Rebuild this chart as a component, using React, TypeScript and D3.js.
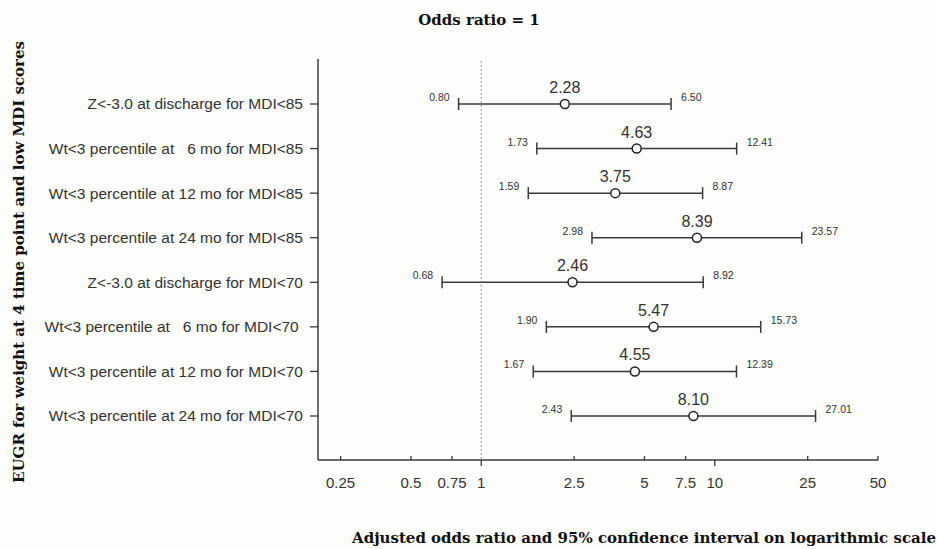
import React, { useEffect, useRef } from 'react'
import * as d3 from 'd3'

// rows from top to bottom
const categories = [
  'Z<-3.0 at discharge for MDI<85',
  'Wt<3 percentile at   6 mo for MDI<85',
  'Wt<3 percentile at 12 mo for MDI<85',
  'Wt<3 percentile at 24 mo for MDI<85',
  'Z<-3.0 at discharge for MDI<70',
  'Wt<3 percentile at   6 mo for MDI<70 ',
  'Wt<3 percentile at 12 mo for MDI<70',
  'Wt<3 percentile at 24 mo for MDI<70',
]
const oddsRatio = [2.28, 4.63, 3.75, 8.39, 2.46, 5.47, 4.55, 8.1]
const lowerCI = [0.8, 1.73, 1.59, 2.98, 0.68, 1.9, 1.67, 2.43]
const upperCI = [6.5, 12.41, 8.87, 23.57, 8.92, 15.73, 12.39, 27.01]

const xTicks = [0.25, 0.5, 0.75, 1, 2.5, 5, 7.5, 10, 25, 50]
const majorTicks = [1, 10]

const W = 938
const H = 549
const serif = '"DejaVu Serif", "Liberation Serif", serif'
const sans = '"Liberation Sans", Arial, sans-serif'

const App = () => {
  const svgRef = useRef<SVGSVGElement>(null)

  useEffect(() => {
    const svg = d3.select(svgRef.current)
    svg.selectAll('*').remove()

    const left = 318
    const right = 878
    const top = 59
    const bottom = 460

    const x = d3.scaleLog().domain([0.2, 50]).range([left, right])
    const y = d3
      .scalePoint<number>()
      .domain(d3.range(categories.length))
      .range([104, 416])

    const ink = '#3a3a3a'

    svg.append('rect').attr('width', W).attr('height', H).attr('fill', '#fdfdfb')

    // y axis
    svg
      .append('line')
      .attr('x1', left)
      .attr('x2', left)
      .attr('y1', top)
      .attr('y2', bottom)
      .attr('stroke', ink)
      .attr('stroke-width', 1.5)

    const rows = svg
      .selectAll('g.row')
      .data(d3.range(categories.length))
      .enter()
      .append('g')
      .attr('class', 'row')

    rows
      .append('line')
      .attr('x1', left - 8)
      .attr('x2', left)
      .attr('y1', (i) => y(i)!)
      .attr('y2', (i) => y(i)!)
      .attr('stroke', ink)
      .attr('stroke-width', 1.3)

    rows
      .append('text')
      .attr('x', left - 15)
      .attr('y', (i) => y(i)!)
      .attr('dy', '0.35em')
      .attr('text-anchor', 'end')
      .style('white-space', 'pre')
      .attr('font-family', sans)
      .attr('font-size', 15.5)
      .attr('fill', '#333')
      .text((i) => categories[i])

    // x axis
    svg
      .append('line')
      .attr('x1', left)
      .attr('x2', right)
      .attr('y1', bottom)
      .attr('y2', bottom)
      .attr('stroke', ink)
      .attr('stroke-width', 1.5)

    const ticks = svg.selectAll('g.xt').data(xTicks).enter().append('g').attr('class', 'xt')
    ticks
      .append('line')
      .attr('x1', (d) => x(d))
      .attr('x2', (d) => x(d))
      .attr('y1', (d) => (majorTicks.includes(d) ? bottom : bottom - 4))
      .attr('y2', (d) => (majorTicks.includes(d) ? bottom + 6 : bottom))
      .attr('stroke', ink)
      .attr('stroke-width', 1.3)
    ticks
      .append('text')
      .attr('x', (d) => x(d))
      .attr('y', 488)
      .attr('text-anchor', 'middle')
      .attr('font-family', sans)
      .attr('font-size', 15)
      .attr('fill', '#333')
      .text((d) => String(d))

    // reference line at OR = 1
    svg
      .append('line')
      .attr('x1', x(1))
      .attr('x2', x(1))
      .attr('y1', top + 2)
      .attr('y2', bottom)
      .attr('stroke', '#777')
      .attr('stroke-width', 1)
      .attr('stroke-dasharray', '1.5,2.5')

    // confidence intervals
    rows
      .append('line')
      .attr('x1', (i) => x(lowerCI[i]))
      .attr('x2', (i) => x(upperCI[i]))
      .attr('y1', (i) => y(i)!)
      .attr('y2', (i) => y(i)!)
      .attr('stroke', ink)
      .attr('stroke-width', 1.5)
    ;[lowerCI, upperCI].forEach((arr) => {
      rows
        .append('line')
        .attr('x1', (i) => x(arr[i]))
        .attr('x2', (i) => x(arr[i]))
        .attr('y1', (i) => y(i)! - 6)
        .attr('y2', (i) => y(i)! + 6)
        .attr('stroke', ink)
        .attr('stroke-width', 1.5)
    })

    rows
      .append('circle')
      .attr('cx', (i) => x(oddsRatio[i]))
      .attr('cy', (i) => y(i)!)
      .attr('r', 4.5)
      .attr('fill', '#fdfdfb')
      .attr('stroke', '#222')
      .attr('stroke-width', 1.5)

    rows
      .append('text')
      .attr('x', (i) => x(oddsRatio[i]))
      .attr('y', (i) => y(i)! - 11)
      .attr('text-anchor', 'middle')
      .attr('font-family', sans)
      .attr('font-size', 16)
      .attr('fill', '#333')
      .text((i) => oddsRatio[i].toFixed(2))

    rows
      .append('text')
      .attr('x', (i) => x(lowerCI[i]) - 9)
      .attr('y', (i) => y(i)! - 3)
      .attr('text-anchor', 'end')
      .attr('font-family', sans)
      .attr('font-size', 10.5)
      .attr('fill', '#333')
      .text((i) => lowerCI[i].toFixed(2))

    rows
      .append('text')
      .attr('x', (i) => x(upperCI[i]) + 10)
      .attr('y', (i) => y(i)! - 3)
      .attr('font-family', sans)
      .attr('font-size', 10.5)
      .attr('fill', '#333')
      .text((i) => upperCI[i].toFixed(2))

    // titles
    svg
      .append('text')
      .attr('x', 479)
      .attr('y', 25)
      .attr('text-anchor', 'middle')
      .attr('font-family', serif)
      .attr('font-weight', 'bold')
      .attr('font-size', 15)
      .attr('fill', '#111')
      .text('Odds ratio = 1')

    svg
      .append('text')
      .attr('transform', 'translate(24, 262) rotate(-90)')
      .attr('text-anchor', 'middle')
      .attr('font-family', serif)
      .attr('font-weight', 'bold')
      .attr('font-size', 15)
      .attr('fill', '#111')
      .text('EUGR for weight at 4 time point and low MDI scores')

    svg
      .append('text')
      .attr('x', 936)
      .attr('y', 543)
      .attr('text-anchor', 'end')
      .attr('font-family', serif)
      .attr('font-weight', 'bold')
      .attr('font-size', 15)
      .attr('fill', '#111')
      .text('Adjusted odds ratio and 95% confidence interval on logarithmic scale')
  }, [])

  return (
    <svg
      ref={svgRef}
      width={W}
      height={H}
      style={{ position: 'absolute', left: 0, top: 0 }}
    ></svg>
  )
}

export default App
